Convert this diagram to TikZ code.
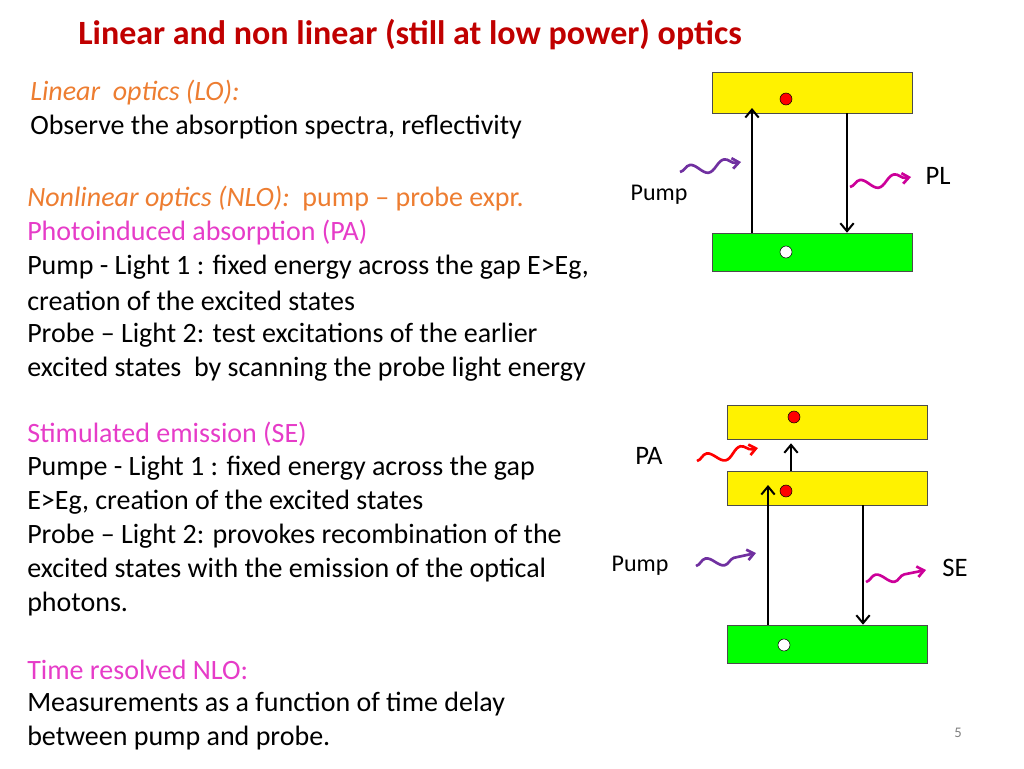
\documentclass[tikz,border=0pt]{standalone}
\usepackage{fontspec}
\setmainfont{Carlito}
\usetikzlibrary{decorations.pathmorphing,arrows.meta}
\definecolor{titlered}{RGB}{192,0,0}
\definecolor{orangetxt}{RGB}{237,125,49}
\definecolor{pinktxt}{RGB}{230,60,200}
\definecolor{purplewave}{RGB}{112,48,160}
\definecolor{magwave}{RGB}{204,0,153}
\tikzset{
  band/.style={draw=black!70, minimum width=150pt, inner sep=0pt},
  upper/.style={band, fill=yellow, minimum height=31pt},
  lower/.style={band, fill=green, minimum height=28.5pt},
  elec/.style={circle, draw=black, fill=red, minimum size=9pt, inner sep=0pt},
  hole/.style={circle, draw=black, fill=white, minimum size=9pt, inner sep=0pt},
  trans/.style={-{Straight Barb[length=6pt,width=10pt]}, line width=1.5pt},
  photon/.style={line width=2pt, -{Straight Barb[length=5pt,width=8pt]},
    decorate, decoration={snake, amplitude=4pt, segment length=26pt, post length=4pt}},
  body/.style={anchor=west, font=\fontsize{21}{24}\selectfont, inner sep=0pt},
  lbl/.style={font=\fontsize{20}{24}\selectfont, inner sep=0pt},
  small/.style={font=\fontsize{18}{21}\selectfont, inner sep=0pt}
}
\begin{document}
\begin{tikzpicture}[x=0.75pt,y=-0.75pt]
\useasboundingbox (0,0) rectangle (1024,768);
% title
\node[anchor=west, inner sep=0pt, text=titlered, font=\bfseries\fontsize{25.5}{28}\selectfont] (title) at (78,35) {Linear and non linear (still at low power) optics};
% left text
\node[body, text=orangetxt] (lo) at (30,93) {\itshape Linear\ \ optics (LO):};
\node[body] (lo1) at (30,127) {Observe the absorption spectra, reflectivity};
\node[body, text=orangetxt] (nlo) at (27,199) {\itshape Nonlinear optics (NLO):\upshape\ \ pump -- probe expr.};
\node[body, text=pinktxt] (pa) at (27,233) {Photoinduced absorption (PA)};
\node[body] (t1) at (27,267) {Pump - Light 1 : fixed energy across the gap E>Eg,};
\node[body] (t2) at (27,301) {creation of the excited states};
\node[body] (t3) at (27,335) {Probe -- Light 2: test excitations of the earlier};
\node[body] (t4) at (27,369) {excited states\ \ by scanning the probe light energy};
\node[body, text=pinktxt] (se) at (27,434) {Stimulated emission (SE)};
\node[body] (s1) at (27,468) {Pumpe - Light 1 : fixed energy across the gap};
\node[body] (s2) at (27,502) {E>Eg, creation of the excited states};
\node[body] (s3) at (27,536) {Probe -- Light 2: provokes recombination of the};
\node[body] (s4) at (27,570) {excited states with the emission of the optical};
\node[body] (s5) at (27,604) {photons.};
\node[body, text=pinktxt] (tr) at (27,670) {Time resolved NLO:};
\node[body] (r1) at (27,704) {Measurements as a function of time delay};
\node[body] (r2) at (27,738) {between pump and probe.};
\node[font=\fontsize{11}{13}\selectfont, text=black!50] (page) at (958,733) {5};
% top diagram
\node[upper] (ex) at (812,92.5) {};
\node[lower] (gs) at (812,252) {};
\node[elec] (e1) at (786,99) {};
\node[hole] (h1) at (786,252) {};
\coordinate (pu0) at (752,233); \coordinate (pu1) at (752,108);
\draw[trans] (pu0) -- (pu1);
\draw[trans] (ex.south -| 847,0) -- (gs.north -| 847,0);
\coordinate (w1a) at (680,172); \coordinate (w1b) at (741,162);
\draw[photon, purplewave] (w1a) -- (w1b);
\node[small] (pump1) at (659,195) {Pump};
\coordinate (w2a) at (850,187); \coordinate (w2b) at (911,177);
\draw[photon, magwave] (w2a) -- (w2b);
\node[lbl] (pl) at (938,176) {PL};
% bottom diagram
\node[upper, minimum height=25.5pt] (ex2) at (827,422) {};
\node[upper, minimum height=25.5pt] (ex1) at (827,488) {};
\node[lower] (gs2) at (827,644) {};
\node[elec] (e2) at (794,417) {};
\node[elec] (e3) at (786,491) {};
\node[hole] (h2) at (784,645) {};
\draw[trans] (ex1.north -| 791,0) -- ([yshift=-3pt]ex2.south -| 791,0);
\draw[trans] (gs2.north -| 768,0) -- (768,485);
\draw[trans] (ex1.south -| 863,0) -- (gs2.north -| 863,0);
\coordinate (w3a) at (697,461); \coordinate (w3b) at (758,448);
\draw[photon, red] (w3a) -- (w3b);
\node[lbl] (palbl) at (649,456) {PA};
\coordinate (w4a) at (696,566); \coordinate (w4b) at (756,553);
\draw[photon, purplewave] (w4a) -- (w4b);
\node[small] (pump2) at (640,566) {Pump};
\coordinate (w5a) at (866,582); \coordinate (w5b) at (926,570);
\draw[photon, magwave] (w5a) -- (w5b);
\node[lbl] (selbl) at (955,568) {SE};
\end{tikzpicture}
\end{document}
